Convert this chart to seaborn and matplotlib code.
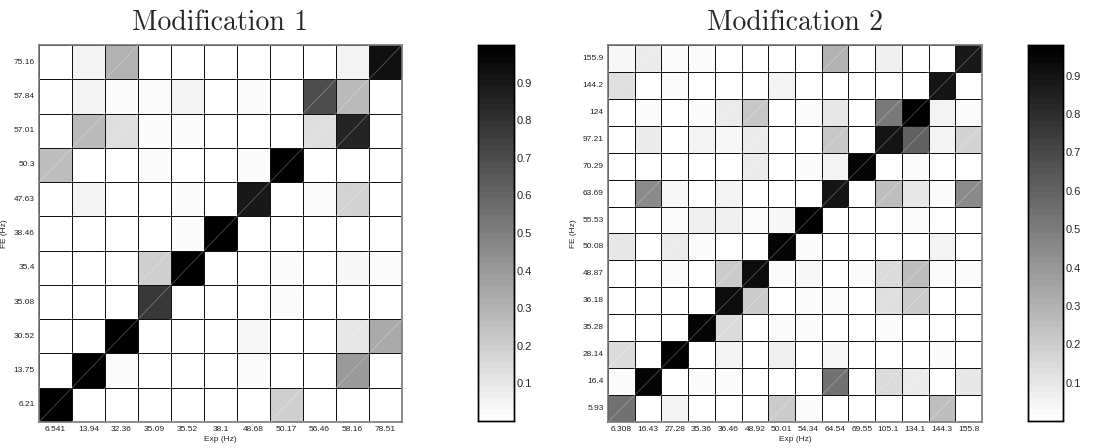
import numpy as np
import pandas as pd
import matplotlib
matplotlib.use("Agg")
import matplotlib.pyplot as plt
from matplotlib.colors import ListedColormap
import seaborn as sns

# ---------------- data ----------------
exp1 = ["6.541", "13.94", "32.36", "35.09", "35.52", "38.1", "48.68", "50.17", "56.46", "58.16", "78.51"]
fe1 = ["75.16", "57.84", "57.01", "50.3", "47.63", "38.46", "35.4", "35.08", "30.52", "13.75", "6.21"]  # top to bottom
mac1 = [
    [0.00, 0.05, 0.30, 0.00, 0.00, 0.00, 0.00, 0.00, 0.01, 0.06, 0.93],
    [0.00, 0.05, 0.02, 0.03, 0.06, 0.00, 0.02, 0.00, 0.70, 0.28, 0.00],
    [0.00, 0.27, 0.13, 0.02, 0.03, 0.00, 0.00, 0.00, 0.13, 0.85, 0.00],
    [0.25, 0.00, 0.00, 0.03, 0.01, 0.00, 0.02, 1.00, 0.00, 0.00, 0.00],
    [0.00, 0.05, 0.00, 0.00, 0.02, 0.00, 0.90, 0.00, 0.02, 0.18, 0.00],
    [0.00, 0.00, 0.00, 0.00, 0.02, 0.99, 0.00, 0.00, 0.00, 0.00, 0.00],
    [0.00, 0.00, 0.00, 0.20, 0.99, 0.00, 0.00, 0.02, 0.00, 0.04, 0.02],
    [0.00, 0.00, 0.00, 0.78, 0.00, 0.01, 0.00, 0.03, 0.00, 0.00, 0.00],
    [0.00, 0.00, 0.99, 0.00, 0.00, 0.01, 0.04, 0.00, 0.00, 0.10, 0.33],
    [0.00, 0.99, 0.02, 0.00, 0.00, 0.00, 0.03, 0.00, 0.00, 0.40, 0.00],
    [0.99, 0.00, 0.00, 0.00, 0.00, 0.00, 0.00, 0.20, 0.00, 0.00, 0.00],
]

exp2 = ["6.308", "16.43", "27.28", "35.36", "36.46", "48.92", "50.01", "54.34", "64.54", "69.55", "105.1", "134.1", "144.3", "155.8"]
fe2 = ["155.9", "144.2", "124", "97.21", "70.29", "63.69", "55.53", "50.08", "48.87", "36.18", "35.28", "28.14", "16.4", "5.93"]  # top to bottom
mac2 = [
    [0.04, 0.08, 0.03, 0.02, 0.00, 0.00, 0.00, 0.00, 0.30, 0.00, 0.07, 0.00, 0.00, 0.88],
    [0.13, 0.00, 0.03, 0.00, 0.00, 0.00, 0.06, 0.00, 0.00, 0.00, 0.00, 0.00, 0.90, 0.01],
    [0.00, 0.02, 0.00, 0.03, 0.08, 0.22, 0.00, 0.02, 0.10, 0.00, 0.52, 0.98, 0.05, 0.02],
    [0.00, 0.08, 0.00, 0.05, 0.04, 0.08, 0.00, 0.00, 0.22, 0.01, 0.90, 0.60, 0.06, 0.18],
    [0.00, 0.01, 0.00, 0.00, 0.00, 0.08, 0.00, 0.02, 0.05, 0.96, 0.00, 0.02, 0.00, 0.00],
    [0.00, 0.45, 0.04, 0.00, 0.06, 0.00, 0.00, 0.00, 0.90, 0.00, 0.25, 0.10, 0.03, 0.45],
    [0.00, 0.00, 0.02, 0.07, 0.07, 0.02, 0.04, 0.98, 0.00, 0.00, 0.00, 0.02, 0.00, 0.00],
    [0.10, 0.00, 0.08, 0.02, 0.00, 0.00, 0.96, 0.03, 0.00, 0.00, 0.00, 0.00, 0.06, 0.00],
    [0.00, 0.00, 0.03, 0.00, 0.20, 0.92, 0.02, 0.04, 0.00, 0.03, 0.15, 0.25, 0.03, 0.02],
    [0.00, 0.00, 0.01, 0.00, 0.92, 0.20, 0.00, 0.03, 0.03, 0.00, 0.13, 0.20, 0.01, 0.01],
    [0.00, 0.00, 0.00, 0.95, 0.15, 0.00, 0.02, 0.03, 0.00, 0.00, 0.02, 0.00, 0.00, 0.00],
    [0.15, 0.00, 0.98, 0.00, 0.05, 0.00, 0.07, 0.00, 0.04, 0.00, 0.00, 0.00, 0.03, 0.01],
    [0.03, 0.95, 0.00, 0.02, 0.03, 0.00, 0.00, 0.00, 0.55, 0.00, 0.15, 0.08, 0.00, 0.10],
    [0.55, 0.00, 0.05, 0.00, 0.00, 0.00, 0.20, 0.02, 0.00, 0.00, 0.00, 0.00, 0.25, 0.01],
]

titles = ["Modification 1", "Modification 2"]
cbar_ticks = [0.1, 0.2, 0.3, 0.4, 0.5, 0.6, 0.7, 0.8, 0.9]

# ---------------- style ----------------
sns.set_style("white")
plt.rcParams["font.family"] = ["Liberation Sans", "DejaVu Sans"]

cmap = ListedColormap(plt.cm.gray_r(np.linspace(0, 1, 64)))

W, H = 1102, 448
fig = plt.figure(figsize=(W / 100, H / 100), dpi=100)

def frac(x0, y0, x1, y1):
    return [x0 / W, 1 - y1 / H, (x1 - x0) / W, (y1 - y0) / H]

layouts = [
    (frac(39, 45, 402, 422), frac(478, 45, 514, 421)),
    (frac(608, 45, 982, 422), frac(1028, 45, 1063, 421)),
]

for (axpos, cbpos), title, xl, yl, m in zip(layouts, titles, [exp1, exp2], [fe1, fe2], [mac1, mac2]):
    ax = fig.add_axes(axpos)
    cax = fig.add_axes(cbpos)
    df = pd.DataFrame(m, index=yl, columns=xl)
    sns.heatmap(df, ax=ax, cbar_ax=cax, cmap=cmap, linewidths=0.6, linecolor="#111111",
                cbar_kws={"ticks": cbar_ticks})
    n = len(xl)
    # rendering seam diagonals (light line across each cell)
    for c in range(1, 2 * n):
        ax.plot([max(0, c - n), min(n, c)], [min(n, c), max(0, c - n)],
                color="white", alpha=0.35, lw=0.5, zorder=3)
    ax.set_xlim(0, n)
    ax.set_ylim(n, 0)
    for s in ax.spines.values():
        s.set_visible(True)
        s.set_color("#777777")
        s.set_linewidth(1.2)
    ax.tick_params(axis="both", labelsize=6, length=2, direction="in", pad=3, colors="#222222")
    ax.set_xticklabels(xl, rotation=0)
    ax.set_yticklabels(yl, rotation=0)
    ax.set_xlabel("Exp (Hz)", fontsize=6, labelpad=2)
    ax.set_ylabel("FE (Hz)", fontsize=6, labelpad=4)
    ax.set_title(title, fontsize=20, family="cmr10", pad=11)
    cax.tick_params(labelsize=8, length=3, direction="in", pad=2)
    for s in cax.spines.values():
        s.set_visible(True)
        s.set_color("black")
        s.set_linewidth(1.0)

fig.savefig("out.png", dpi=100)
